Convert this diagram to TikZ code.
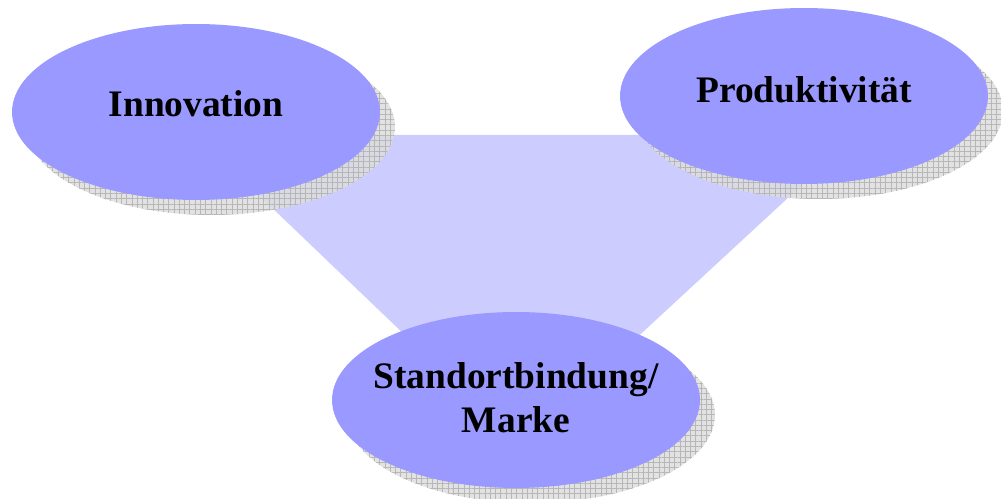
\documentclass[tikz,border=0pt]{standalone}
\usepackage{fontspec}
\setmainfont{Liberation Serif}
\usepackage{xcolor}
\usetikzlibrary{shapes.geometric, patterns.meta, backgrounds}
\definecolor{OvalFill}  {HTML}{9999FF}
\definecolor{LinkFill}  {HTML}{CCCCFF}
\definecolor{ShadowFill}{HTML}{DDDDDD}
\definecolor{ShadowGrid}{HTML}{B0B0B0}
\tikzset{
  oval/.style={
    ellipse, fill=OvalFill, inner sep=0pt,
    minimum width=7.36cm, minimum height=3.52cm,
  },
  ovaltext/.style={
    align=center, inner sep=0pt,
    font=\fontsize{21.3}{25}\selectfont\bfseries,
  },
  ovalshadow/.style={
    ellipse, inner sep=0pt, opacity=0.85,
    minimum width=7.36cm, minimum height=3.52cm,
    preaction={fill=ShadowFill},
    pattern={Hatch[distance=3pt, angle=0, line width=0.3pt]},
    pattern color=ShadowGrid,
  },
  link/.style={fill=LinkFill},
}

\begin{document}
\begin{tikzpicture}[x=0.02cm, y=-0.02cm]
\useasboundingbox (0,0) rectangle (1001,499);

% ── Positions ─────────────────────────────────────────────────────────────
\coordinate (INNO) at (196,112);
\coordinate (PROD) at (804, 96);
\coordinate (STAO) at (516,400);

% ── Linking band ──────────────────────────────────────────────────────────
\fill[link] (196,135) -- (856,135) -- (565,404) -- (477,404) -- cycle;

% ── Shadows ───────────────────────────────────────────────────────────────
\node[ovalshadow] (INNOsh) at ([xshift=15*0.02cm, yshift=-15*0.02cm]INNO) {};
\node[ovalshadow] (PRODsh) at ([xshift=15*0.02cm, yshift=-15*0.02cm]PROD) {};
\node[ovalshadow] (STAOsh) at ([xshift=15*0.02cm, yshift=-15*0.02cm]STAO) {};

% ── Ovals ─────────────────────────────────────────────────────────────────
\node[oval] (INN) at (INNO) {};
\node[oval] (PRD) at (PROD) {};
\node[oval] (STD) at (STAO) {};

% ── Labels ────────────────────────────────────────────────────────────────
\node[ovaltext] (INNlbl) at ([yshift=0.16cm]INN.center) {Innovation};
\node[ovaltext] (PRDlbl) at ([yshift=0.12cm]PRD.center) {Produktivität};
\node[ovaltext] (STDlbl) at ([yshift=0.04cm]STD.center) {Standortbindung/\\Marke};

\end{tikzpicture}
\end{document}
